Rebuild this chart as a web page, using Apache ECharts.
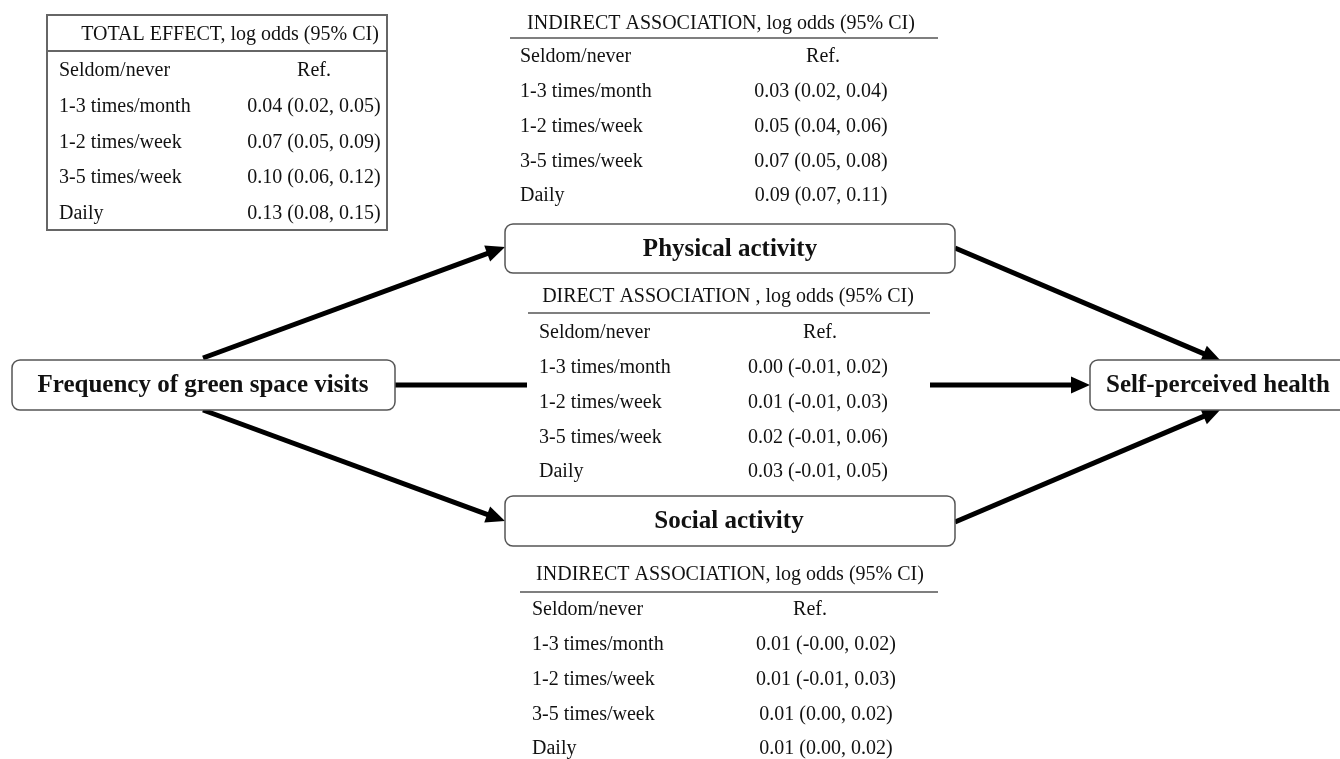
<!DOCTYPE html>
<html>
<head>
<meta charset="utf-8">
<script src="https://cdn.jsdelivr.net/npm/echarts@6/dist/echarts.min.js"></script>
<style>
html, body { margin: 0; padding: 0; background: #fff; }
#chart { width: 1340px; height: 759px; }
</style>
</head>
<body>
<div id="chart"></div>
<script>
// row labels shared by all four tables
var categories = ['Seldom/never', '1-3 times/month', '1-2 times/week', '3-5 times/week', 'Daily'];

var totalEffect = ['Ref.', '0.04 (0.02, 0.05)', '0.07 (0.05, 0.09)', '0.10 (0.06, 0.12)', '0.13 (0.08, 0.15)'];
var indirectPhysical = ['Ref.', '0.03 (0.02, 0.04)', '0.05 (0.04, 0.06)', '0.07 (0.05, 0.08)', '0.09 (0.07, 0.11)'];
var directAssoc = ['Ref.', '0.00 (-0.01, 0.02)', '0.01 (-0.01, 0.03)', '0.02 (-0.01, 0.06)', '0.03 (-0.01, 0.05)'];
var indirectSocial = ['Ref.', '0.01 (-0.00, 0.02)', '0.01 (-0.01, 0.03)', '0.01 (0.00, 0.02)', '0.01 (0.00, 0.02)'];

var headers = [
	'TOTAL EFFECT, log odds (95% CI)',
	'INDIRECT ASSOCIATION, log odds (95% CI)',
	'DIRECT ASSOCIATION , log odds (95% CI)',
	'INDIRECT ASSOCIATION, log odds (95% CI)'
];

var nodeNames = ['Frequency of green space visits', 'Physical activity', 'Social activity', 'Self-perceived health'];

var FONT = '20px "Liberation Serif", "Times New Roman", serif';
var BOLD = 'bold 25px "Liberation Serif", "Times New Roman", serif';

var myChart = echarts.init(document.getElementById('chart'), null, { renderer: 'canvas' });
var els = [];

function txt(x, y, s, align, font) {
	els.push({
		type: 'text',
		z: 10,
		style: {
			x: x, y: y, text: s,
			font: font || FONT,
			fill: '#111',
			align: align || 'left', textAlign: align || 'left',
			verticalAlign: 'middle', textVerticalAlign: 'middle'
		}
	});
}

function hline(x1, x2, y, color, w) {
	els.push({
		type: 'line',
		shape: { x1: x1, y1: y, x2: x2, y2: y },
		style: { stroke: color || '#555', lineWidth: w || 1.5 }
	});
}

// a table: header, rule, then rows
function table(t) {
	txt(t.hx, t.hy, t.header, 'center');
	hline(t.lx1, t.lx2, t.ly);
	for (var i = 0; i < categories.length; i++) {
		var y = t.y0 + i * t.dy;
		txt(t.left, y, categories[i], 'left');
		txt(i == 0 ? t.refx : t.valx, y, t.values[i], 'center');
	}
}

function box(x, y, w, h, label, cx) {
	els.push({
		type: 'rect',
		shape: { x: x, y: y, width: w, height: h, r: 8 },
		style: { fill: '#fff', stroke: '#555', lineWidth: 1.5 }
	});
	txt(cx, y + h / 2 + 1, label, 'center', BOLD);
}

function arrow(x1, y1, x2, y2, head) {
	var dx = x2 - x1, dy = y2 - y1,
		len = Math.sqrt(dx * dx + dy * dy),
		ux = dx / len, uy = dy / len,
		hl = 19, hw = 8.5;
	var bx = x2 - ux * hl, by = y2 - uy * hl;
	els.push({
		type: 'line',
		shape: { x1: x1, y1: y1, x2: head ? bx + ux * 2 : x2, y2: head ? by + uy * 2 : y2 },
		style: { stroke: '#000', lineWidth: 5 }
	});
	if (head) {
		els.push({
			type: 'polygon',
			shape: { points: [[x2, y2], [bx - uy * hw, by + ux * hw], [bx + uy * hw, by - ux * hw]] },
			style: { fill: '#000' }
		});
	}
}

// total effect table, framed
els.push({
	type: 'rect',
	shape: { x: 47, y: 15, width: 340, height: 215 },
	style: { fill: 'none', stroke: '#666', lineWidth: 2 }
});
hline(47, 387, 51, '#666', 2);
txt(230, 35, headers[0], 'center');
for (var i = 0; i < categories.length; i++) {
	txt(59, 71 + i * 35.7, categories[i], 'left');
	txt(314, 71 + i * 35.7, totalEffect[i], 'center');
}

table({ header: headers[1], hx: 721, hy: 24, lx1: 510, lx2: 938, ly: 38,
	left: 520, y0: 57, dy: 34.8, valx: 821, refx: 823, values: indirectPhysical });
table({ header: headers[2], hx: 728, hy: 297, lx1: 528, lx2: 930, ly: 313,
	left: 539, y0: 333, dy: 34.8, valx: 818, refx: 820, values: directAssoc });
table({ header: headers[3], hx: 730, hy: 575, lx1: 520, lx2: 938, ly: 592,
	left: 532, y0: 610, dy: 34.8, valx: 826, refx: 810, values: indirectSocial });

// paths
arrow(203, 358, 505, 247, true);
arrow(203, 410, 505, 521, true);
arrow(955, 248, 1221, 361, true);
arrow(955, 522, 1221, 409, true);
arrow(395, 385, 527, 385, false);
arrow(930, 385, 1090, 385, true);

box(12, 360, 383, 50, nodeNames[0], 203);
box(505, 224, 450, 49, nodeNames[1], 730);
box(505, 496, 450, 50, nodeNames[2], 729);
box(1090, 360, 270, 50, nodeNames[3], 1218);

myChart.setOption({
	backgroundColor: '#fff',
	animation: false,
	graphic: { elements: els }
});
</script>
</body>
</html>
